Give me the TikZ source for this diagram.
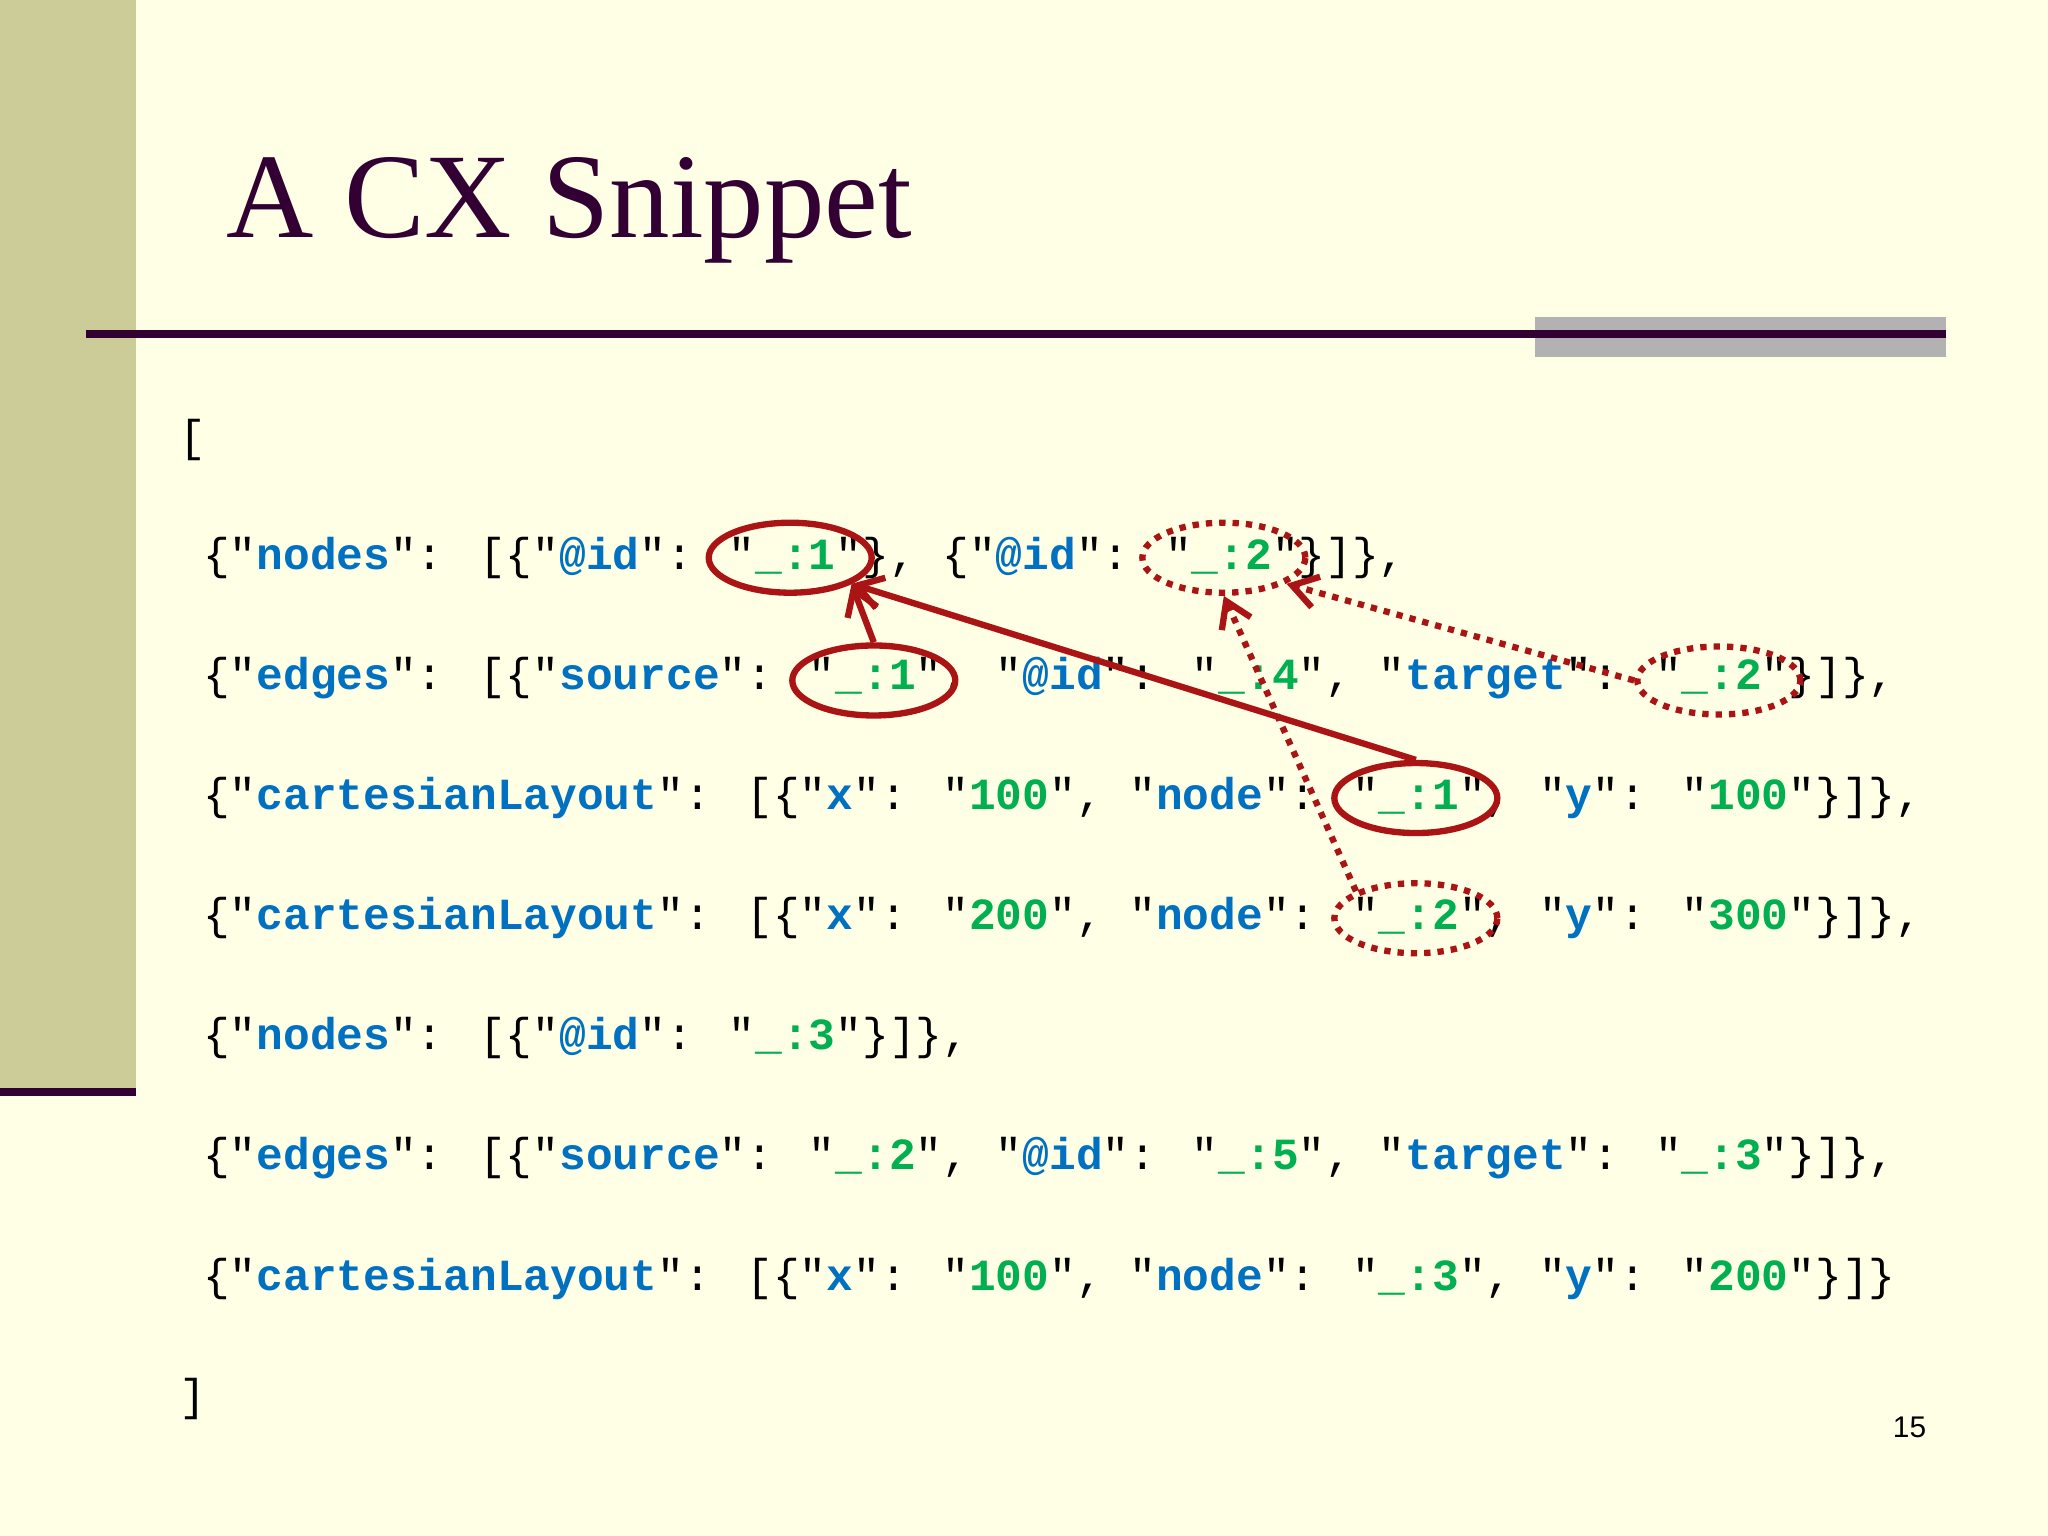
\documentclass[tikz,border=0pt]{standalone}
\usepackage{fontspec}
\setmainfont{Liberation Serif}
\newfontfamily\codefont{Liberation Mono}[Ligatures=NoCommon]
\newfontfamily\pgfont{Liberation Sans}
\usetikzlibrary{arrows.meta,shapes.geometric}
\definecolor{bg}{RGB}{255,255,230}
\definecolor{olive}{RGB}{204,204,153}
\definecolor{plum}{RGB}{51,0,51}
\definecolor{keyc}{RGB}{0,112,192}
\definecolor{valc}{RGB}{0,176,80}
\definecolor{mark}{RGB}{170,20,20}
\newcommand{\K}[1]{\textcolor{keyc}{\bfseries #1}}
\newcommand{\V}[1]{\textcolor{valc}{\bfseries #1}}
\tikzset{code/.style={anchor=west,inner sep=0pt,font=\codefont\fontsize{12.67pt}{14pt}\selectfont},
ring/.style={ellipse,inner sep=0pt,minimum width=1.63cm,minimum height=0.70cm},
solidring/.style={ring,draw=mark,line width=1.8pt},
dotring/.style={ring,draw=mark,line width=1.8pt,dotted},
arr/.style={draw=mark,line width=1.8pt,-{Straight Barb[length=7pt,width=9pt]}}}
\begin{document}
\begin{tikzpicture}[x=0.01306cm,y=-0.01306cm]
\fill[bg] (0,0) rectangle (1568,1176);
\useasboundingbox (0,0) rectangle (1568,1176);
\fill[olive] (0,0) rectangle (104,833);
\fill[plum] (0,833) rectangle (104,839);
\fill[black!30] (1175,243) rectangle (1490,273);
\draw[plum,line width=2.2pt] (66,256) -- (1490,256);
\node[anchor=base west,inner sep=0pt,text=plum,font=\fontsize{34.4pt}{38pt}\selectfont] (title) at (173,182) {A CX Snippet};
\node[code] (l0) at (137,337) {[};
\node[code] (l1) at (155,427) {\{"\K{nodes}": [\{"\K{@id}": "\V{\_:1}"\}, \{"\K{@id}": "\V{\_:2}"\}]\},};
\node[code] (l2) at (155,519) {\{"\K{edges}": [\{"\K{source}": "\V{\_:1}", "\K{@id}": "\V{\_:4}", "\K{target}": "\V{\_:2}"\}]\},};
\node[code] (l3) at (155,611) {\{"\K{cartesianLayout}": [\{"\K{x}": "\V{100}", "\K{node}": "\V{\_:1}", "\K{y}": "\V{100}"\}]\},};
\node[code] (l4) at (155,703) {\{"\K{cartesianLayout}": [\{"\K{x}": "\V{200}", "\K{node}": "\V{\_:2}", "\K{y}": "\V{300}"\}]\},};
\node[code] (l5) at (155,795) {\{"\K{nodes}": [\{"\K{@id}": "\V{\_:3}"\}]\},};
\node[code] (l6) at (155,887) {\{"\K{edges}": [\{"\K{source}": "\V{\_:2}", "\K{@id}": "\V{\_:5}", "\K{target}": "\V{\_:3}"\}]\},};
\node[code] (l7) at (155,979) {\{"\K{cartesianLayout}": [\{"\K{x}": "\V{100}", "\K{node}": "\V{\_:3}", "\K{y}": "\V{200}"\}]\}};
\node[code] (l8) at (137,1071) {]};
\node[font=\pgfont\fontsize{8.5pt}{10pt}\selectfont,inner sep=0pt] (pg) at (1462,1093) {15};
\node[solidring] (e1) at (605,427) {};
\node[dotring] (e2) at (937,427) {};
\node[solidring] (e3) at (669,521) {};
\node[dotring,minimum height=0.68cm] (e4) at (1316,521) {};
\node[solidring] (e5) at (1084,611) {};
\node[dotring] (e6) at (1084,703) {};
\coordinate (t1) at (652,447);
\draw[arr] (e3.north) -- (t1);
\draw[arr] (e5.north) -- (t1);
\draw[arr,dotted] (e6.north west) -- (e2.south);
\draw[arr,dotted] (e4.west) -- (985,447);
\end{tikzpicture}
\end{document}
